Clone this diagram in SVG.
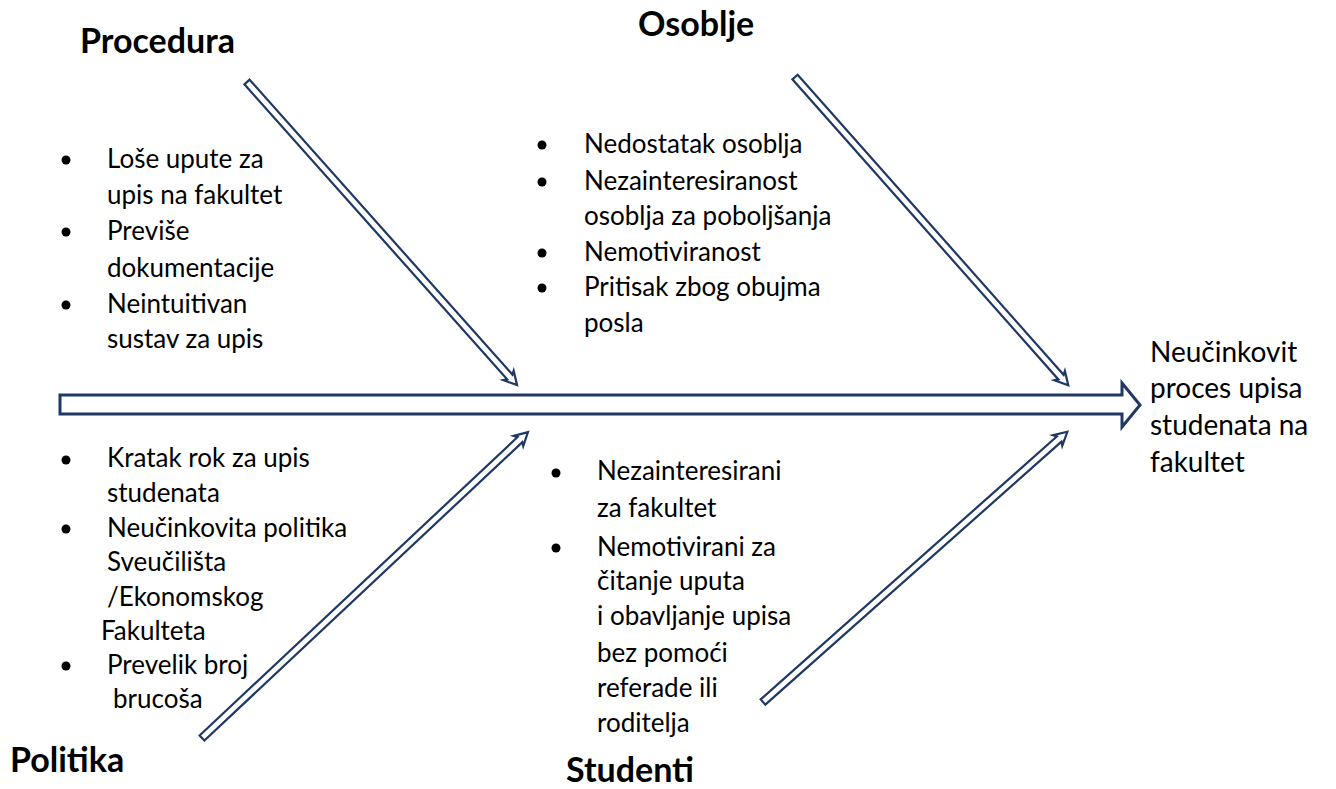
<svg xmlns="http://www.w3.org/2000/svg" width="1336" height="789" viewBox="0 0 1336 789">
<style>
.t{font-family:Lato,"Liberation Sans",sans-serif;font-size:26px;fill:#000}
.h{font-family:Lato,"Liberation Sans",sans-serif;font-size:34px;font-weight:bold;fill:#000}
.r{font-family:Lato,"Liberation Sans",sans-serif;font-size:28px;fill:#000}
.arr{fill:#fff;stroke:#1f3864;stroke-width:2.2;stroke-linejoin:miter}
.b{fill:#000}
</style>
<rect width="1336" height="789" fill="#fff"/>
<g id="connectors">
<polygon class="arr" style="stroke-width:3" points="60,395 1122,395 1122,383 1140,405 1122,427 1122,414 60,414"/>
<path class="arr" transform="translate(247,82) rotate(48.3)" d="M0,-3.5 L395,-3.5 L393,-7 L406,0 L393,7 L395,3.5 L0,3.5 Z"/>
<path class="arr" transform="translate(795,77) rotate(48.45)" d="M0,-3.5 L401,-3.5 L399,-7 L412,0 L399,7 L401,3.5 L0,3.5 Z"/>
<path class="arr" transform="translate(202,738) rotate(-43.18)" d="M0,-3.5 L436,-3.5 L434,-7 L447,0 L434,7 L436,3.5 L0,3.5 Z"/>
<path class="arr" transform="translate(763,702) rotate(-41.6)" d="M0,-3.5 L396,-3.5 L394,-7 L407,0 L394,7 L396,3.5 L0,3.5 Z"/>
</g>
<g id="procedura">
<text class="h" x="80" y="53">Procedura</text>
<circle class="b" cx="66" cy="160" r="4.5"/>
<text class="t" x="107" y="168">Loše upute za</text>
<text class="t" x="107" y="204">upis na fakultet</text>
<circle class="b" cx="66" cy="232" r="4.5"/>
<text class="t" x="107" y="240">Previše</text>
<text class="t" x="107" y="277">dokumentacije</text>
<circle class="b" cx="66" cy="305" r="4.5"/>
<text class="t" x="107" y="313">Neintuitivan</text>
<text class="t" x="107" y="348">sustav za upis</text>
</g>
<g id="osoblje">
<text class="h" x="638" y="36">Osoblje</text>
<circle class="b" cx="542" cy="145" r="4.5"/>
<text class="t" x="584" y="153">Nedostatak osoblja</text>
<circle class="b" cx="542" cy="182" r="4.5"/>
<text class="t" x="584" y="190">Nezainteresiranost</text>
<text class="t" x="584" y="225">osoblja za poboljšanja</text>
<circle class="b" cx="542" cy="253" r="4.5"/>
<text class="t" x="584" y="261">Nemotiviranost</text>
<circle class="b" cx="542" cy="288" r="4.5"/>
<text class="t" x="584" y="296">Pritisak zbog obujma</text>
<text class="t" x="584" y="332">posla</text>
</g>
<g id="politika">
<text class="h" x="10" y="772">Politika</text>
<circle class="b" cx="66" cy="460" r="4.5"/>
<text class="t" x="107" y="467">Kratak rok za upis</text>
<text class="t" x="107" y="502">studenata</text>
<circle class="b" cx="66" cy="529" r="4.5"/>
<text class="t" x="107" y="537">Neučinkovita politika</text>
<text class="t" x="107" y="571">Sveučilišta</text>
<text class="t" x="107" y="606">/Ekonomskog</text>
<text class="t" x="101" y="640">Fakulteta</text>
<circle class="b" cx="66" cy="666" r="4.5"/>
<text class="t" x="107" y="674">Prevelik broj</text>
<text class="t" x="113" y="708">brucoša</text>
</g>
<g id="studenti">
<text class="h" x="566" y="782">Studenti</text>
<circle class="b" cx="556" cy="473" r="4.5"/>
<text class="t" x="597" y="480">Nezainteresirani</text>
<text class="t" x="597" y="517">za fakultet</text>
<circle class="b" cx="556" cy="548" r="4.5"/>
<text class="t" x="597" y="556">Nemotivirani za</text>
<text class="t" x="597" y="590">čitanje uputa</text>
<text class="t" x="597" y="625">i obavljanje upisa</text>
<text class="t" x="597" y="662">bez pomoći</text>
<text class="t" x="597" y="697">referade ili</text>
<text class="t" x="597" y="732">roditelja</text>
</g>
<g id="effect">
<text class="r" x="1150" y="362">Neučinkovit</text>
<text class="r" x="1150" y="398">proces upisa</text>
<text class="r" x="1150" y="435">studenata na</text>
<text class="r" x="1150" y="472">fakultet</text>
</g>
</svg>
